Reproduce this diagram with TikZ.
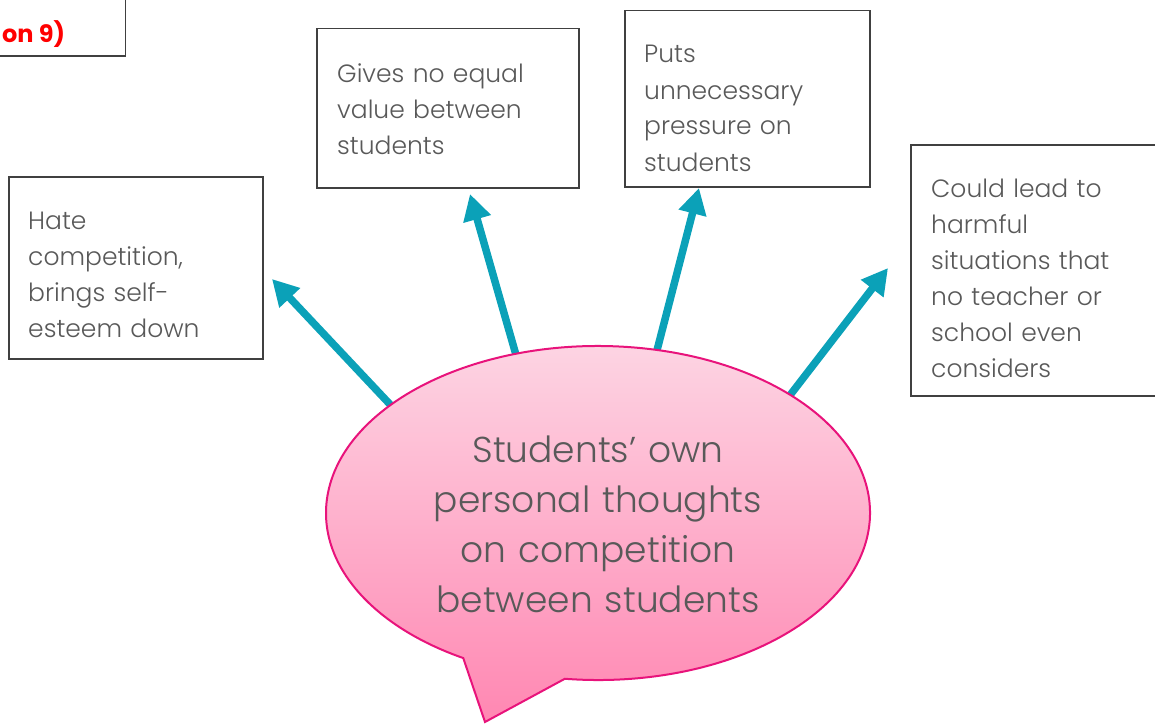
\documentclass[tikz,border=0pt]{standalone}
\usepackage{fontspec}
\setmainfont{Poppins}[UprightFont=* Light, BoldFont=* Bold]
\usetikzlibrary{arrows.meta,shapes.geometric,calc}
\definecolor{txtgray}{HTML}{595959}
\definecolor{boxline}{HTML}{404040}
\definecolor{teal}{HTML}{0BA1B8}
\definecolor{bubtop}{HTML}{FDD6E4}
\definecolor{bubbot}{HTML}{FF87B2}
\definecolor{bubline}{HTML}{E8137B}
\begin{document}
\begin{tikzpicture}[x=1pt,y=-1pt,
  box/.style={draw=boxline, line width=1.5pt, fill=white, inner sep=0pt, anchor=north west},
  boxtext/.style={anchor=base west, inner sep=0pt, text=txtgray, align=left, text width=240pt,
    font=\fontsize{25}{36}\selectfont},
  thought/.style={-{Triangle[length=26pt,width=27pt]}, draw=teal, line width=7.5pt},
]
\useasboundingbox (0,0) rectangle (1155,725);
\clip (0,0) rectangle (1155,725);

% heading box, cut off at the page edge
\node[box, anchor=south east, minimum width=220pt, minimum height=100pt] (qbox) at (126,57) {};
\node[anchor=base west, inner sep=0pt, text=red, font=\bfseries\fontsize{24}{30}\selectfont] (qtext) at (2,42) {on 9)};

% outcome boxes
\node[box, minimum width=254pt, minimum height=182pt] (b1) at (8,176) {};
\node[boxtext] (t1) at (28,229) {Hate\\competition,\\brings self-\\esteem down};

\node[box, minimum width=262pt, minimum height=159pt] (b2) at (316,28) {};
\node[boxtext] (t2) at (337,82) {Gives no equal\\value between\\students};

\node[box, minimum width=245pt, minimum height=176pt] (b3) at (624,10) {};
\node[boxtext] (t3) at (644,63) {Puts\\unnecessary\\pressure on\\students};

\node[box, minimum width=260pt, minimum height=251pt] (b4) at (910,144) {};
\node[boxtext] (t4) at (931,197) {Could lead to\\harmful\\situations that\\no teacher or\\school even\\considers};

% arrow ends: roots sit under the bubble, tips point at the boxes
\coordinate (s1) at (400,415);  \coordinate (e1) at (272,279);
\coordinate (s2) at (518,362);  \coordinate (e2) at (470,194);
\coordinate (s3) at (655,358);  \coordinate (e3) at (699,188);
\coordinate (s4) at (784,403);  \coordinate (e4) at (888,268);
\draw[thought] (s1) -- (e1);
\draw[thought] (s2) -- (e2);
\draw[thought] (s3) -- (e3);
\draw[thought] (s4) -- (e4);

% speech bubble
\node[ellipse, minimum width=544pt, minimum height=334pt, inner sep=0pt] (bub) at (598,513) {};
\shade[top color=bubtop, bottom color=bubbot, draw=bubline, line width=2pt, line join=miter]
  ($(bub.center)+(97:272 and 167)$) coordinate (tr)
  arc[start angle=97, end angle=-240.3, x radius=272, y radius=167]
  coordinate (tl) -- (485,722) coordinate (tip) -- cycle;
\node[anchor=base, inner sep=0pt, text=txtgray, align=center, text width=500pt,
  font=\fontsize{36}{50}\selectfont] (bubtext) at (598,462)
  {Students’ own\\personal thoughts\\on competition\\between students};
\end{tikzpicture}
\end{document}
